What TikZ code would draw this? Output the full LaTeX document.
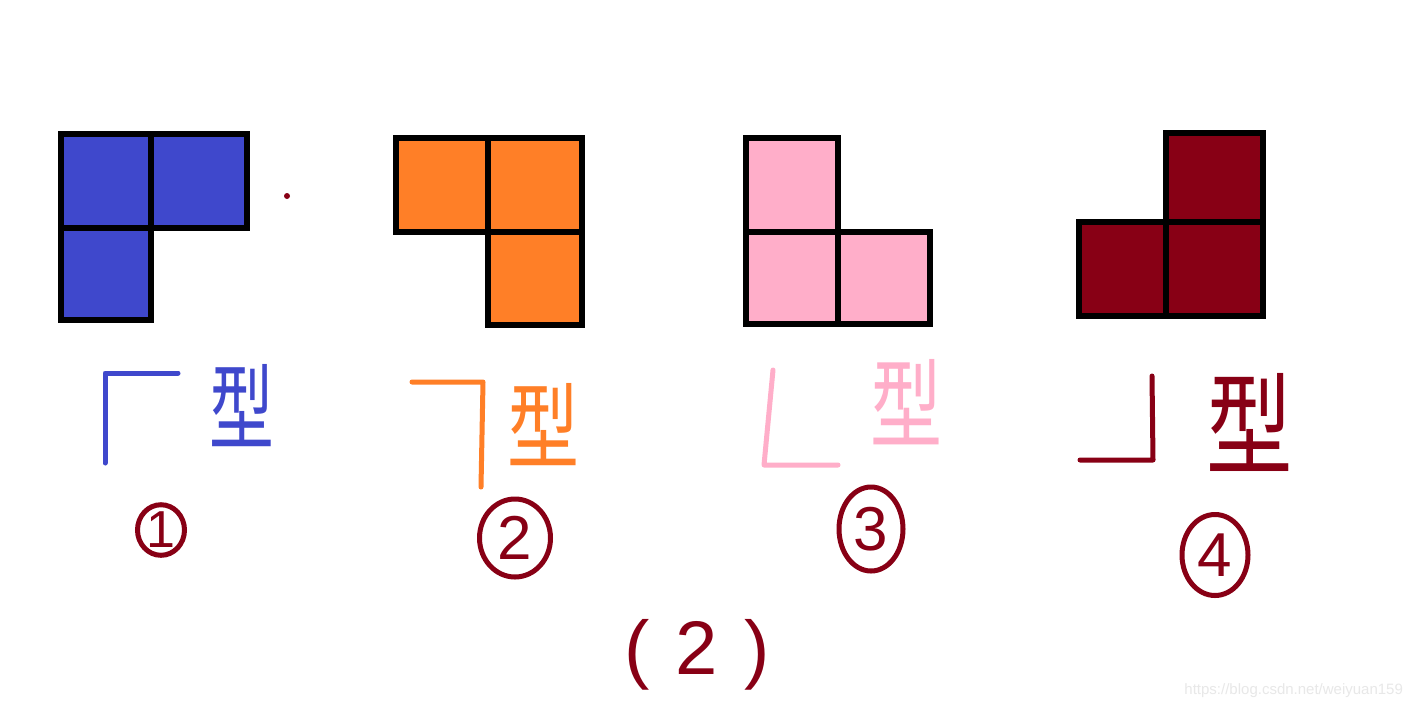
\documentclass[tikz,border=0pt]{standalone}
\usepackage{graphicx}
\usepackage{fontspec}
\usetikzlibrary{shapes.geometric}
\setsansfont{Liberation Sans}
\newfontfamily\cjk{Noto Sans CJK SC}
\definecolor{pblue}{HTML}{3F48CC}
\definecolor{porange}{HTML}{FF7F27}
\definecolor{ppink}{HTML}{FFAEC9}
\definecolor{pred}{HTML}{880015}

\begin{document}
\begin{tikzpicture}[x=0.5pt, y=-0.5pt]
   \tikzstyle{cell}=[draw=black, line width=3pt]
   \tikzstyle{stroke}=[line width=2.5pt, line cap=round, line join=round]
   \tikzstyle{xing}=[inner sep=0pt, font=\cjk\fontsize{36}{36}\selectfont]
   \tikzstyle{num}=[draw=pred, ellipse, line width=2.5pt, inner sep=0pt, text=pred, font=\sffamily\fontsize{31}{31}\selectfont]

\useasboundingbox[fill=white] (0,0) rectangle (1419,709);

% the four pieces
\foreach \a/\b/\c/\d in {61/134/151/228, 151/134/247/228, 61/228/151/320}
    \filldraw[cell, fill=pblue] (\a,\b) rectangle (\c,\d);
\foreach \a/\b/\c/\d in {396/138/488/232, 488/138/582/232, 488/232/582/325}
    \filldraw[cell, fill=porange] (\a,\b) rectangle (\c,\d);
\foreach \a/\b/\c/\d in {746/138/838/232, 746/232/838/324, 838/232/930/324}
    \filldraw[cell, fill=ppink] (\a,\b) rectangle (\c,\d);
\foreach \a/\b/\c/\d in {1166/133/1263/222, 1079/222/1166/316, 1166/222/1263/316}
    \filldraw[cell, fill=pred] (\a,\b) rectangle (\c,\d);
\fill[pred] (287,196) circle (1.5pt);

% corner marks
\draw[stroke, pblue] (105,463) -- (105,373) -- (178,373);
\draw[stroke, porange] (412,382) -- (483,382) -- (481,487);
\draw[stroke, ppink] (773,370) -- (764,465) -- (838,465);
\draw[stroke, pred] (1152,376) -- (1153,460) -- (1080,460);

\node[xing, text=pblue] (xing1) at (242,406) {\scalebox{0.9}[1.3]{型}};
\node[xing, text=porange] (xing2) at (543,425) {\scalebox{1}[1.3]{型}};
\node[xing, text=ppink] (xing3) at (906,402) {\scalebox{1}[1.35]{型}};
\node[xing, text=pred] (xing4) at (1250,422) {\scalebox{1.2}[1.55]{型}};

\node[num, font=\sffamily\fontsize{26}{26}\selectfont, minimum width=23.5pt, minimum height=24.5pt] (num1) at (161,530) {1};
\node[num, minimum width=35.5pt, minimum height=39pt] (num2) at (515,538) {2};
\node[num, minimum width=32pt, minimum height=42pt] (num3) at (871,529) {3};
\node[num, minimum width=33pt, minimum height=40.5pt] (num4) at (1215,555) {4};

\node[text=pred, font=\sffamily\fontsize{38}{38}\selectfont] (part) at (697,655) {(\hspace{13pt}2\hspace{13pt})};

\node[anchor=east, text=black!9, font=\sffamily\fontsize{7.5}{7.5}\selectfont] (url) at (1410,691) {https://blog.csdn.net/weiyuan159};
\end{tikzpicture}
\end{document}
